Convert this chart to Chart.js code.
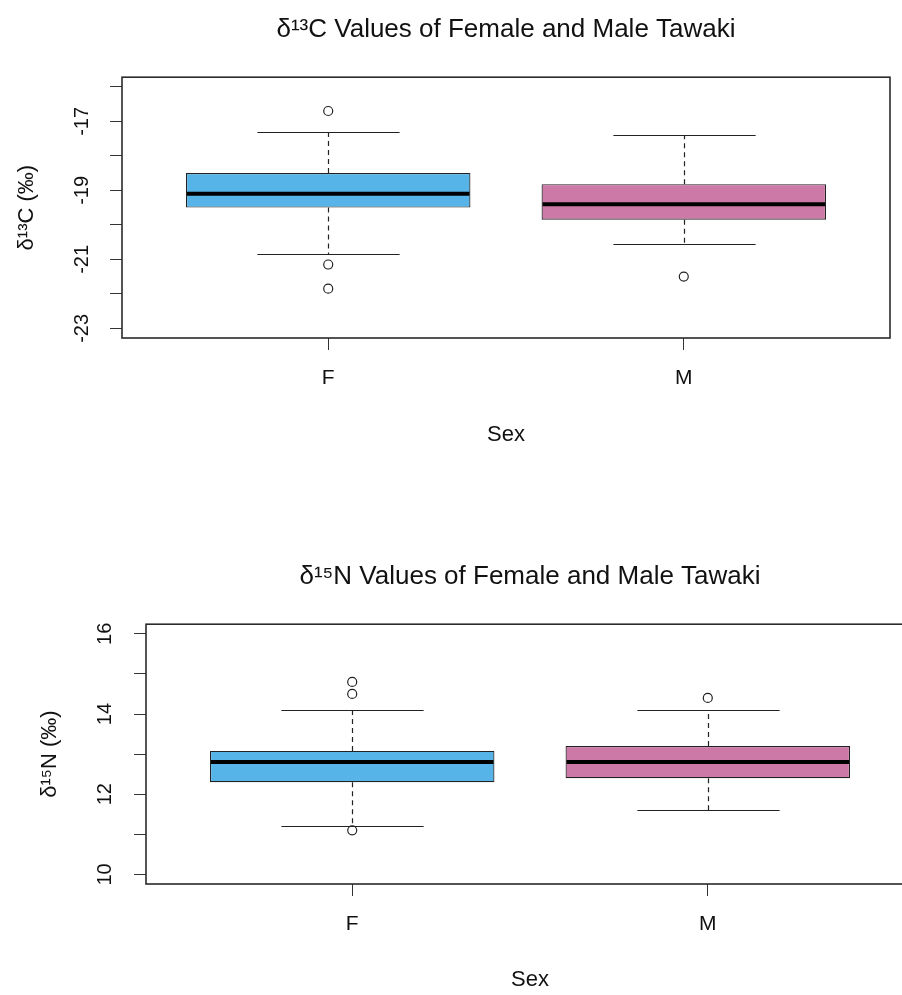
<!DOCTYPE html>
<html lang="en">
<head>
<meta charset="UTF-8">
<title>Tawaki isotope box plots</title>
<script src="https://cdn.jsdelivr.net/npm/chart.js"></script>
<style>
  html, body { margin: 0; padding: 0; background: #fff; overflow: hidden; }
  #wrap { position: relative; width: 902px; height: 995px; overflow: hidden; }
  canvas { position: absolute; left: 0; }
  #carbon { top: 0; }
  #nitrogen { top: 495px; }
</style>
</head>
<body>
<div id="wrap">
  <canvas id="carbon" width="902" height="495"></canvas>
  <canvas id="nitrogen" width="930" height="500"></canvas>
</div>

<script>
// categories and colours
const sexes = ['F', 'M'];
const boxColors = ['#56B4E9', '#CC79A7'];

// d13C box stats (F, M)
const carbonLow = [-20.85, -20.55];
const carbonQ1 = [-19.5, -19.85];
const carbonMedian = [-19.1, -19.4];
const carbonQ3 = [-18.5, -18.82];
const carbonHigh = [-17.3, -17.4];
const carbonOutliers = [[-16.7, -21.15, -21.85], [-21.5]];
const carbonTicks = [-23, -22, -21, -20, -19, -18, -17, -16];

// d15N box stats (F, M)
const nitrogenLow = [11.2, 11.6];
const nitrogenQ1 = [12.3, 12.4];
const nitrogenMedian = [12.8, 12.8];
const nitrogenQ3 = [13.08, 13.2];
const nitrogenHigh = [14.1, 14.1];
const nitrogenOutliers = [[14.8, 14.5, 11.1], [14.4]];
const nitrogenTicks = [10, 11, 12, 13, 14, 15, 16];

Chart.defaults.font.family = '"Liberation Sans", Arial, sans-serif';
Chart.defaults.color = '#111';

// whiskers, caps, medians and the plot frame, all placed with the chart's scales
const boxExtras = {
  id: 'boxExtras',
  afterDatasetsDraw(chart) {
    const ctx = chart.ctx;
    const xs = chart.scales.x, ys = chart.scales.y;
    const st = chart.data.datasets[0].stats;
    const bars = chart.getDatasetMeta(0).data;
    ctx.save();
    ctx.strokeStyle = '#222';
    bars.forEach((bar, i) => {
      const cx = Math.round(xs.getPixelForValue(i + 1)) + 0.5;
      const half = bar.width / 2;
      // dashed whiskers
      ctx.lineWidth = 1.2;
      ctx.setLineDash([5, 4]);
      ctx.beginPath();
      ctx.moveTo(cx, ys.getPixelForValue(st.q3[i]));
      ctx.lineTo(cx, ys.getPixelForValue(st.high[i]));
      ctx.moveTo(cx, ys.getPixelForValue(st.q1[i]));
      ctx.lineTo(cx, ys.getPixelForValue(st.low[i]));
      ctx.stroke();
      // caps
      ctx.setLineDash([]);
      ctx.beginPath();
      [st.low[i], st.high[i]].forEach(v => {
        const py = Math.round(ys.getPixelForValue(v)) + 0.5;
        ctx.moveTo(cx - half / 2, py);
        ctx.lineTo(cx + half / 2, py);
      });
      ctx.stroke();
      // median
      ctx.strokeStyle = '#000';
      ctx.lineWidth = 4;
      ctx.beginPath();
      const my = ys.getPixelForValue(st.median[i]);
      ctx.moveTo(bar.x - half + 1, my);
      ctx.lineTo(bar.x + half - 1, my);
      ctx.stroke();
      ctx.strokeStyle = '#222';
    });
    const a = chart.chartArea;
    ctx.lineWidth = 1.6;
    ctx.strokeStyle = '#2a2a2a';
    ctx.strokeRect(a.left, a.top, a.right - a.left, a.bottom - a.top);
    ctx.restore();
  }
};

function boxChart(id, s) {
  const outlierPts = [];
  s.outliers.forEach((list, i) => list.forEach(v => outlierPts.push({ x: i + 1, y: v })));

  new Chart(document.getElementById(id), {
    type: 'bar',
    data: {
      datasets: [{
        type: 'bar',
        data: sexes.map((c, i) => ({ x: i + 1, y: [s.q1[i], s.q3[i]] })),
        stats: s,
        backgroundColor: boxColors,
        borderColor: '#222',
        borderWidth: 1.2,
        borderSkipped: false,
        grouped: false,
        categoryPercentage: 0.8,
        barPercentage: 1
      }, {
        type: 'scatter',
        data: outlierPts,
        pointRadius: 4.5,
        pointHoverRadius: 4.5,
        borderColor: '#222',
        borderWidth: 1.2,
        backgroundColor: 'rgba(0,0,0,0)'
      }]
    },
    options: {
      responsive: false,
      animation: false,
      layout: { padding: { left: 0, right: s.padRight, top: 0, bottom: 0 } },
      plugins: {
        legend: { display: false },
        tooltip: { enabled: false },
        title: {
          display: true,
          text: s.title,
          fullSize: false,
          color: '#111',
          font: { size: 26, weight: 'normal' },
          padding: { top: s.titleTop, bottom: s.titleBottom }
        }
      },
      scales: {
        x: {
          type: 'linear',
          min: 0.42,
          max: 2.58,
          offset: false,
          afterBuildTicks: sc => { sc.ticks = sexes.map((c, i) => ({ value: i + 1 })); },
          afterFit: sc => { sc.height = s.xHeight; },
          border: { display: false },
          grid: { drawOnChartArea: false, offset: false, tickLength: 12, color: '#333' },
          ticks: {
            autoSkip: false, maxRotation: 0, padding: 16,
            font: { size: 21 },
            callback: v => sexes[v - 1] || ''
          },
          title: {
            display: true, text: 'Sex',
            font: { size: 22 },
            padding: { top: 0, bottom: s.sexBottom }
          }
        },
        y: {
          min: s.min,
          max: s.max,
          afterBuildTicks: sc => { sc.ticks = s.ticks.map(v => ({ value: v })); },
          afterFit: sc => { sc.width = s.yWidth; },
          border: { display: false },
          grid: { drawOnChartArea: false, tickLength: 12, color: '#333' },
          ticks: {
            autoSkip: false, minRotation: 90, maxRotation: 90, crossAlign: 'center',
            padding: s.tickPad,
            font: { size: 20 },
            callback: s.label
          },
          title: {
            display: true, text: s.yTitle,
            font: { size: 22 },
            padding: { top: s.yTitlePad, bottom: s.yTitlePad }
          }
        }
      }
    },
    plugins: [boxExtras]
  });
}

boxChart('carbon', {
  title: 'δ¹³C Values of Female and Male Tawaki',
  yTitle: 'δ¹³C (‰)',
  low: carbonLow, q1: carbonQ1, median: carbonMedian, q3: carbonQ3, high: carbonHigh,
  outliers: carbonOutliers, ticks: carbonTicks,
  label: v => (Math.abs(v) % 2 === 1 ? String(v) : ''),
  min: -23.28, max: -15.72,
  padRight: 12, yWidth: 122, xHeight: 157,
  titleTop: 14, titleBottom: 32, sexBottom: 47,
  tickPad: 13, yTitlePad: 14
});

boxChart('nitrogen', {
  title: 'δ¹⁵N Values of Female and Male Tawaki',
  yTitle: 'δ¹⁵N (‰)',
  low: nitrogenLow, q1: nitrogenQ1, median: nitrogenMedian, q3: nitrogenQ3, high: nitrogenHigh,
  outliers: nitrogenOutliers, ticks: nitrogenTicks,
  label: v => (v % 2 === 0 ? String(v) : ''),
  min: 9.76, max: 16.24,
  padRight: 16, yWidth: 146, xHeight: 111,
  titleTop: 66, titleBottom: 32, sexBottom: 2,
  tickPad: 17, yTitlePad: 37
});
</script>
</body>
</html>
